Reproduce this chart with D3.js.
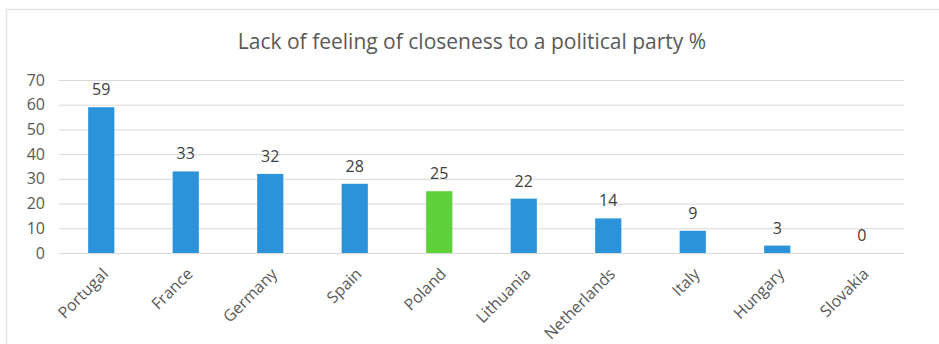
<!DOCTYPE html>
<html><head><meta charset="utf-8">
<script src="https://cdn.jsdelivr.net/npm/d3@7"></script>
<style>body{margin:0;background:#fff;} text{font-family:"Open Sans",sans-serif;}</style>
</head><body>
<svg id="c" width="939" height="344"></svg>
<script>
const countries = ["Portugal","France","Germany","Spain","Poland","Lithuania","Netherlands","Italy","Hungary","Slovakia"];
const values = [59,33,32,28,25,22,14,9,3,0];
const highlight = ["Poland"];
const yTicks = [0,10,20,30,40,50,60,70];
const title = "Lack of feeling of closeness to a political party %";

const svg = d3.select("#c");
svg.append("rect").attr("x",6.5).attr("y",9.5).attr("width",960).attr("height",400)
  .attr("fill","#fff").attr("stroke","#e3e3e3").attr("stroke-width",1.5);

const x = d3.scaleBand().domain(countries).range([59,904]).paddingInner(0.69).paddingOuter(0.345);
const y = d3.scaleLinear().domain([0,70]).range([253,80]);

svg.append("text").attr("x",472).attr("y",49).attr("text-anchor","middle")
  .attr("font-size",21).attr("fill","#595959").text(title);

const ya = svg.append("g").attr("transform","translate(59,0)")
  .call(d3.axisLeft(y).tickValues(yTicks).tickSize(-845).tickPadding(14));
ya.select(".domain").remove();
ya.selectAll(".tick line").attr("stroke","#d9d9d9").attr("stroke-width",1);
ya.selectAll(".tick text").attr("font-size",16).attr("fill","#595959").attr("font-family","Open Sans, sans-serif");

svg.selectAll(".bar").data(countries).join("rect")
  .attr("x",d=>x(d)).attr("width",x.bandwidth())
  .attr("y",(d,i)=>y(values[i])).attr("height",(d,i)=>y(0)-y(values[i]))
  .attr("fill",d=>highlight.includes(d)?"#5fd13a":"#2c93da");

svg.selectAll(".val").data(countries).join("text")
  .attr("x",d=>x(d)+x.bandwidth()/2).attr("y",(d,i)=>y(values[i])-12)
  .attr("text-anchor","middle").attr("font-size",16).attr("fill","#404040")
  .text((d,i)=>values[i]);

const xa = svg.append("g").attr("transform","translate(0,253)")
  .call(d3.axisBottom(x).tickSize(0).tickPadding(0));
xa.select(".domain").attr("stroke","#d9d9d9");
xa.selectAll(".tick text").attr("font-size",16).attr("fill","#595959").attr("font-family","Open Sans, sans-serif")
  .attr("text-anchor","end").attr("dy",0)
  .attr("transform","translate(8,22) rotate(-45)");
</script>
</body></html>
